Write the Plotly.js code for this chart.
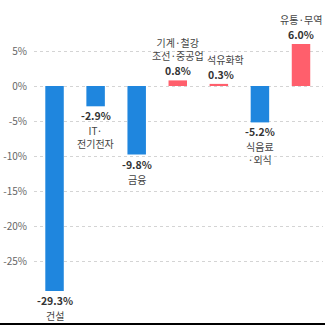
<!DOCTYPE html>
<html><head><meta charset="utf-8">
<script src="https://cdn.plot.ly/plotly-3.0.1.min.js"></script>
<style>html,body{margin:0;padding:0;background:#000;width:325px;height:325px;overflow:hidden}#c{width:325px;height:323px;background:#fff}</style>
</head><body><div id="c"></div>
<script>
var categories = ['건설','IT·전기전자','금융','기계·철강·조선·중공업','석유화학','식음료·외식','유통·무역'];
var labelNames = ['건설','IT·<br>전기전자','금융','기계·철강<br>조선·중공업','석유화학','식음료<br>·외식','유통·무역'];
var values = [-29.3, -2.9, -9.8, 0.8, 0.3, -5.2, 6.0];
var valueLabels = ['-29.3%','-2.9%','-9.8%','0.8%','0.3%','-5.2%','6.0%'];
var tickVals = [5, 0, -5, -10, -15, -20, -25];
var tickText = ['5%','0%','-5%','-10%','-15%','-20%','-25%'];

var BLUE = '#1f86de', RED = '#ff5f6c';
var FONT = '"Noto Sans CJK KR", "Noto Sans", sans-serif';

var annotations = [];
categories.forEach(function(c, i){
  var neg = values[i] < 0;
  annotations.push({
    x: c, y: values[i], xref: 'x', yref: 'y', showarrow: false,
    text: '<b>' + valueLabels[i] + '</b>',
    yanchor: neg ? 'top' : 'bottom', yshift: neg ? -1 : 1, borderpad: 0,
    xshift: i === 4 ? 2 : 0,
    font: {family: FONT, size: 10.5, color: '#333'}
  });
  annotations.push({
    x: c, y: values[i], xref: 'x', yref: 'y', showarrow: false,
    text: labelNames[i],
    yanchor: neg ? 'top' : 'bottom', yshift: neg ? -16 : 16, borderpad: 0,
    xshift: i === 4 ? 7 : 0,
    font: {family: FONT, size: 10, color: '#444'}
  });
});

var trace = {
  type: 'bar', x: categories, y: values,
  marker: {color: values.map(function(v){ return v < 0 ? BLUE : RED; })},
  width: 0.45, hoverinfo: 'none'
};

var layout = {
  width: 325, height: 323,
  margin: {l: 34, r: 2, t: 37, b: 13},
  paper_bgcolor: '#fff', plot_bgcolor: '#fff',
  showlegend: false,
  font: {family: FONT, size: 10, color: '#555'},
  xaxis: {type: 'category', showticklabels: false, showgrid: false, zeroline: false, showline: false, ticks: ''},
  yaxis: {range: [-32, 7], tickvals: tickVals, ticktext: tickText, showgrid: true,
          gridcolor: '#d4d4d4', griddash: 'dot', gridwidth: 1, zeroline: false, showline: false,
          ticks: '', ticklabelstandoff: 6, tickfont: {family: FONT, size: 10, color: '#666'}},
  annotations: annotations
};
Plotly.newPlot('c', [trace], layout, {staticPlot: true, displayModeBar: false});
</script></body></html>
